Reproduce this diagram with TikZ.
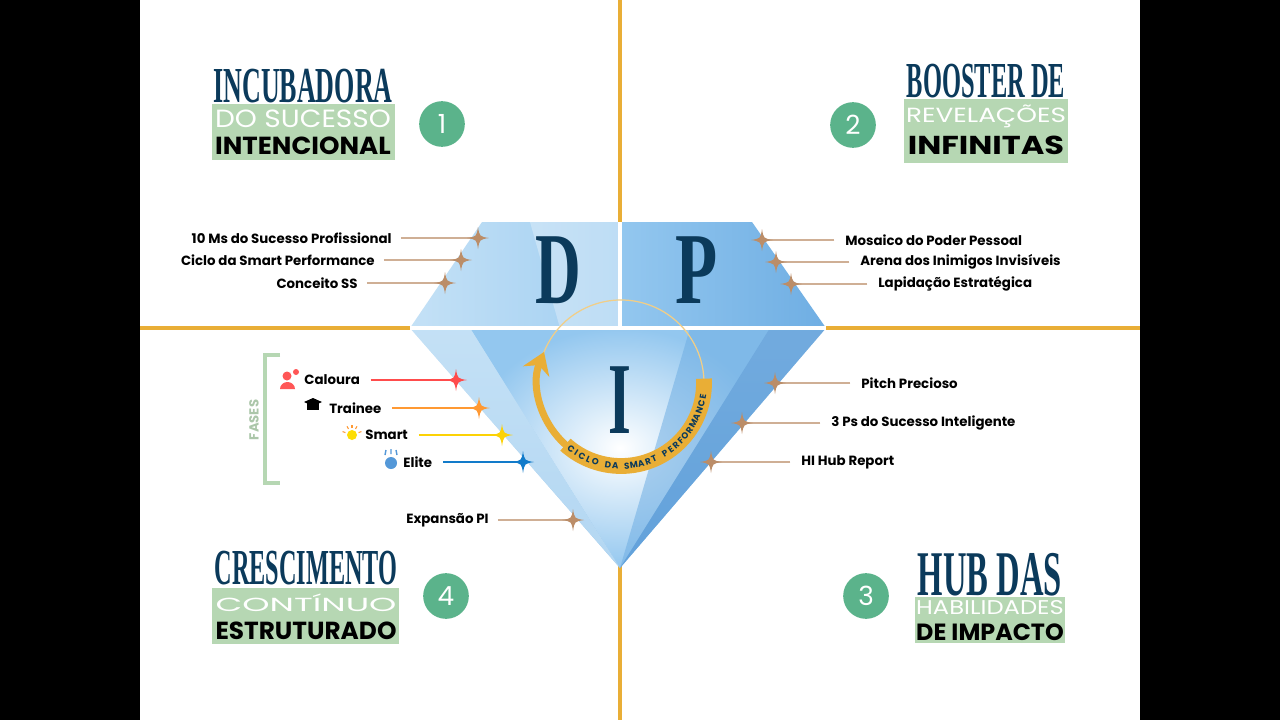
\documentclass[tikz,border=0pt]{standalone}
\usepackage{fontspec}
\setmainfont{Liberation Serif}
\newfontfamily\pop{Poppins}
\usetikzlibrary{calc,arrows.meta}
\definecolor{navy}{HTML}{0B3A5B}
\definecolor{gold}{HTML}{E9AE36}
\definecolor{gbox}{HTML}{B6D7B3}
\definecolor{gcirc}{HTML}{5BB38B}
\definecolor{brn}{HTML}{BB8D68}
\definecolor{d1}{HTML}{C4E1F6}
\definecolor{d2}{HTML}{93C7EF}
\definecolor{d3}{HTML}{6FAEE3}
\definecolor{d4}{HTML}{5B9AD6}
\newcommand{\rb}[3]{\resizebox{#1pt}{#2pt}{#3}}
\tikzset{
 lab/.style={font=\pop\bfseries\fontsize{7.6}{9}\selectfont, text=black, inner sep=0pt},
 num/.style={circle, fill=gcirc, minimum size=26pt, text=white, font=\pop\fontsize{15}{16}\selectfont, inner sep=0pt},
 spark/.pic={\fill[pic actions] (0,-11) .. controls (1.5,-1.5) .. (11,0) .. controls (1.5,1.5) .. (0,11) .. controls (-1.5,1.5) .. (-11,0) .. controls (-1.5,-1.5) .. cycle;},
 ln/.style={line width=1.1pt}
}
\begin{document}
\begin{tikzpicture}[x=0.02cm,y=-0.02cm]
\useasboundingbox (0,0) rectangle (1280,720);
\fill[black] (0,0) rectangle (1280,720);
\fill[white] (140,0) rectangle (1140,720);
% gold axes
\draw[gold, line width=2.3pt] (620,0) -- (620,720);
\draw[gold, line width=2.3pt] (140,328) -- (1140,328);
% diamond
\shade[top color=d1, bottom color=d3] (410,328) -- (826,328) -- (620,568) -- cycle;
\shade[inner color=white, outer color=d2] (470,328) -- (770,328) -- (620,568) -- cycle;
\fill[d3, opacity=.55] (690,328) -- (826,328) -- (620,568) -- cycle;
\fill[d4, opacity=.6] (770,328) -- (826,328) -- (620,568) -- cycle;
\fill[d1, opacity=.8] (410,328) -- (470,328) -- (620,568) -- cycle;
\shade[left color=d1, right color=d2!70!d1] (482,222) -- (620,222) -- (620,328) -- (410,328) -- cycle;
\shade[left color=d2, right color=d3] (620,222) -- (752,222) -- (826,328) -- (620,328) -- cycle;
\fill[white, opacity=.3] (530,222) -- (620,222) -- (620,328) -- (560,328) -- cycle;
\draw[white, line width=2.5pt] (410,328) -- (826,328) (620,222) -- (620,328);
% letters
\node[text=navy] (D) at (558,270) {\rb{26}{38}{\bfseries D}};
\node[text=navy] (P) at (697,270) {\rb{24}{38}{\bfseries P}};
\node[text=navy] (I) at (620,400) {\rb{13}{38}{\bfseries I}};
% ring
\coordinate (C) at (621,383);
\draw[gold!60, line width=0.7pt] ($(C)+(200:83)$) arc[start angle=200, end angle=360, radius=83];
\draw[gold, line width=4pt, -{Stealth[length=12pt,width=16pt]}] ($(C)+(130:83)$) arc[start angle=130, end angle=202, radius=83];
\draw[gold, line width=9pt] ($(C)+(-3:83)$) arc[start angle=-3, end angle=132, radius=83];
\foreach \c/\a in {C/127,I/122.5,C/118,L/113,O/108,D/99,A/94,S/86,M/81,A/76,R/71,T/66.5,P/58,E/53,R/48.5,F/44,O/39.5,R/34.5,M/29.5,A/24.5,N/19.5,C/14.5,E/9.5}
  \node[font=\pop\bfseries\fontsize{5}{6}\selectfont, text=navy, inner sep=0pt, rotate={90-\a}] at ($(C)+(\a:83)$) {\c};
% titles
\fill[gbox] (212,104) rectangle (395,160);
\node[text=navy] (t1) at (303,86) {\rb{102}{19}{\bfseries INCUBADORA}};
\node[text=white] at (303,119) {\rb{100}{10}{\pop DO SUCESSO}};
\node[text=black] at (303,146) {\rb{100}{10}{\pop\bfseries INTENCIONAL}};
\node[num] (n1) at (442,124) {1};
\fill[gbox] (904,99) rectangle (1068,163);
\node[text=navy] (t2) at (986,81) {\rb{90}{19}{\bfseries BOOSTER DE}};
\node[text=white] at (986,116) {\rb{91}{10}{\pop REVELAÇÕES}};
\node[text=black] at (986,145) {\rb{89}{10.5}{\pop\bfseries INFINITAS}};
\node[num] (n2) at (853,125) {2};
\fill[gbox] (915,597) rectangle (1065,643);
\node[text=navy] (t3) at (990,575) {\rb{82}{24}{\bfseries HUB DAS}};
\node[text=white] at (990,608) {\rb{84}{8}{\pop HABILIDADES}};
\node[text=black] at (990,632) {\rb{84}{9.5}{\pop\bfseries DE IMPACTO}};
\node[num] (n3) at (866,596) {3};
\fill[gbox] (212,588) rectangle (399,644);
\node[text=navy] (t4) at (306,568) {\rb{104}{19}{\bfseries CRESCIMENTO}};
\node[text=white] at (306,603) {\rb{103}{10}{\pop CONTÍNUO}};
\node[text=black] at (306,631) {\rb{103}{10}{\pop\bfseries ESTRUTURADO}};
\node[num] (n4) at (446,596) {4};
% left labels
\node[lab, anchor=east] (a1) at (392,238) {10 Ms do Sucesso Profissional};
\node[lab, anchor=east] (a2) at (375,260) {Ciclo da Smart Performance};
\node[lab, anchor=east] (a3) at (358,283) {Conceito SS};
\node[lab, anchor=east] (a4) at (489,520) {Expansão PI};
\coordinate (s1) at (478,238); \coordinate (s2) at (461,260); \coordinate (s3) at (445,283); \coordinate (s4) at (573,520);
\foreach \k in {1,...,4} {\draw[ln, brn!70] ([xshift=5]a\k.east) -- (s\k); \pic[fill=brn] at (s\k) {spark};}
% right labels
\node[lab, anchor=west] (b1) at (845,240) {Mosaico do Poder Pessoal};
\node[lab, anchor=west] (b2) at (860,262) {Arena dos Inimigos Invisíveis};
\node[lab, anchor=west] (b3) at (878,284) {Lapidação Estratégica};
\node[lab, anchor=west] (b4) at (861,383) {Pitch Precioso};
\node[lab, anchor=west] (b5) at (831,423) {3 Ps do Sucesso Inteligente};
\node[lab, anchor=west] (b6) at (801,462) {HI Hub Report};
\coordinate (r1) at (762,240); \coordinate (r2) at (776,262); \coordinate (r3) at (791,284);
\coordinate (r4) at (775,383); \coordinate (r5) at (742,423); \coordinate (r6) at (711,462);
\foreach \k in {1,...,6} {\draw[ln, brn!70] ([xshift=-6]b\k.west) -- (r\k); \pic[fill=brn] at (r\k) {spark};}
% phases
\draw[gbox, line width=2pt] (280,355) -- (265,355) -- (265,483) -- (280,483);
\node[rotate=90, text=gbox!80!gray, font=\pop\bfseries\fontsize{7.5}{8}\selectfont] (fs) at (254,420) {FASES};
\node[lab, anchor=west] (p1) at (304,380) {Caloura};
\node[lab, anchor=west] (p2) at (329,408) {Trainee};
\node[lab, anchor=west] (p3) at (365,435) {Smart};
\node[lab, anchor=west] (p4) at (403,462) {Elite};
\coordinate (q1) at (456,380); \coordinate (q2) at (479,408); \coordinate (q3) at (502,435); \coordinate (q4) at (523,462);
\foreach \k/\c in {1/red!60!pink,2/orange!80,3/yellow!70!orange,4/cyan!60!blue} {\draw[ln, \c] ([xshift=6]p\k.east) -- (q\k); \pic[fill=\c] at (q\k) {spark};}
% icons
\fill[red!55!pink] (287,376) circle (4.5);
\fill[red!55!pink] (280,389) arc[start angle=180, end angle=360, x radius=7.5, y radius=7] -- cycle;
\fill[red!55!pink] (296,372) circle (3);
\fill[black] (304,402) -- (313,398) -- (322,402) -- (313,406) -- cycle;
\fill[black] (307,403) rectangle (319,410);
\fill[yellow!80!orange] (352,435) circle (5);
\foreach \a in {200,240,270,300,340} \draw[orange!80, line width=0.6pt] ($(352,435)+(\a:7)$) -- ($(352,435)+(\a:10)$);
\fill[cyan!60!blue!70] (391,463) circle (6);
\draw[cyan!60!blue!70, line width=0.8pt] (385,455) -- (386,450) (391,454) -- (391,449) (397,455) -- (396,450);
\end{tikzpicture}
\end{document}
